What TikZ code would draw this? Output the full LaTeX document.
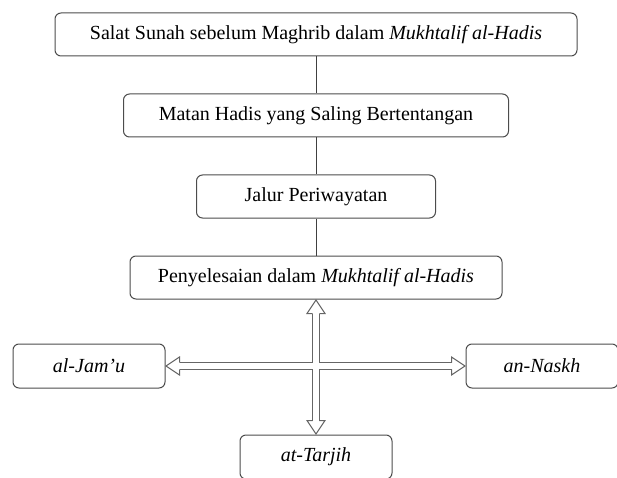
\documentclass[tikz,border=0pt]{standalone}
\usepackage{fontspec}
\setmainfont{Liberation Serif}
\usetikzlibrary{positioning}

\begin{document}
\begin{tikzpicture}[x=1pt,y=-1pt, node distance=37pt, every node/.style={font=\fontsize{20}{24}\selectfont}, box/.style={draw=black!70,line width=1pt,rounded corners=6pt,minimum height=43pt,inner sep=0pt}, ln/.style={draw=black!75,line width=0.9pt}, shaft/.style={line width=7.6pt,draw=black!60,shorten <=14pt,shorten >=14pt}, gap/.style={line width=5.6pt,draw=white,shorten <=13.5pt,shorten >=13.5pt}, head/.style={draw=black!60,line width=1pt,line join=miter}]
\useasboundingbox (0,0) rectangle (617,478);
\node[box,minimum width=522pt] (salat) at (316,34.5) {Salat Sunah sebelum Maghrib dalam \textit{Mukhtalif al-Hadis}};
\node[box,minimum width=385pt,below=of salat] (matan) {Matan Hadis yang Saling Bertentangan};
\node[box,minimum width=239pt,below=of matan] (jalur) {Jalur Periwayatan};
\node[box,minimum width=372pt,below=of jalur] (selesai) {Penyelesaian dalam \textit{Mukhtalif al-Hadis}};
\draw[ln] (salat)--(matan);\draw[ln] (matan)--(jalur);\draw[ln] (jalur)--(selesai);
\node[box,minimum width=152pt,minimum height=44pt] (jamu) at (89,366) {\textit{al-Jam’u}};
\node[box,minimum width=152pt,minimum height=44pt] (naskh) at (542,366) {\textit{an-Naskh}};
\node[box,minimum width=152pt,minimum height=44pt] (tarjih) at (316,457) {\textit{at-Tarjih}};
% hollow double arrows
\draw[shaft] (selesai)--(tarjih);\draw[shaft] (jamu)--(naskh);
\draw[gap] (selesai)--(tarjih);\draw[gap] (jamu)--(naskh);
\foreach \a/\r in {selesai.south/0,tarjih.north/180,jamu.east/90,naskh.west/-90}
  \draw[head,shift={(\a)},rotate=\r] (-3.3,14)--(-9,14)--(0,0.5)--(9,14)--(3.3,14);
\end{tikzpicture}
\end{document}
